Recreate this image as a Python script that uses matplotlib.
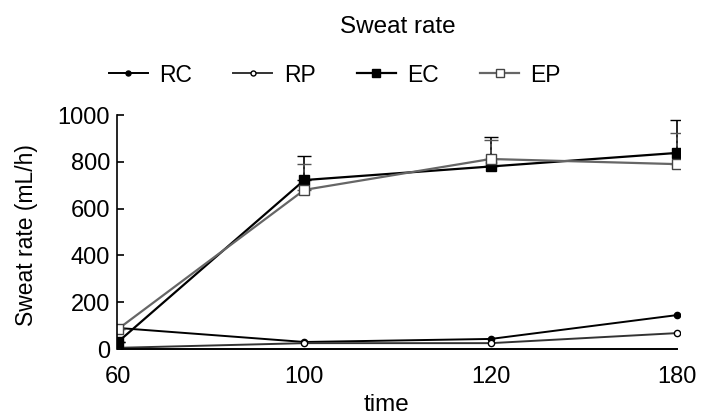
import matplotlib
matplotlib.use("Agg")
import matplotlib.pyplot as plt
import numpy as np

plt.rcParams['font.family'] = ['Liberation Sans', 'DejaVu Sans']

times = ['60', '100', '120', '180']
rc = [90, 30, 43, 145]
rp = [5, 25, 25, 68]
ec = [30, 722, 780, 838]
ep = [85, 680, 812, 790]
ec_err = [0, 103, 125, 140]
ep_err = [0, 110, 80, 135]

fig = plt.figure(figsize=(7.05, 4.18), dpi=100)
ax = fig.add_axes([117 / 705, 1 - 349 / 418, 563 / 705, 234 / 418])

x = np.arange(len(times))
zeros = np.zeros(len(times))

l1, = ax.plot(x, rc, color='k', lw=1.4, marker='o', ms=4.5, mfc='k', mec='k', label='RC')
l2, = ax.plot(x, rp, color='#333333', lw=1.4, marker='o', ms=4.5, mfc='white', mec='k', label='RP')
ax.errorbar(x, ec, yerr=[zeros, ec_err], fmt='none', ecolor='k', elinewidth=1.2, capsize=5)
eb = ax.errorbar(x, ep, yerr=[zeros, ep_err], fmt='none', ecolor='#555555', elinewidth=1.2, capsize=5)
eb[2][0].set_linestyle((0, (2, 1.5)))
l3, = ax.plot(x, ec, color='k', lw=1.6, marker='s', ms=6.5, mfc='k', mec='k', label='EC')
l4, = ax.plot(x, ep, color='#666666', lw=1.6, marker='s', ms=6.5, mfc='white', mec='#444444', label='EP')

ax.set_xlim(-0.005, 3.015)
ax.set_ylim(0, 1000)
ax.set_xticks(x)
ax.set_xticklabels(times)
ax.set_yticks([0, 200, 400, 600, 800, 1000])
ax.tick_params(axis='y', direction='in', length=5, width=1.2, pad=5, labelsize=17)
ax.tick_params(axis='x', length=0, pad=12, labelsize=17)

ax.spines['top'].set_visible(False)
ax.spines['right'].set_visible(False)
ax.spines['bottom'].set_bounds(0, 3)
ax.spines['left'].set_linewidth(1.2)
ax.spines['bottom'].set_linewidth(1.4)

fig.text(398 / 705, 1 - 27 / 418, 'Sweat rate', ha='center', va='center', fontsize=17.5)
fig.text(387 / 705, 1 - 405 / 418, 'time', ha='center', va='center', fontsize=17.5)
fig.text(27 / 705, 1 - 235 / 418, 'Sweat rate (mL/h)', ha='center', va='center',
         rotation=90, fontsize=16.5)

fig.legend(handles=[l1, l2, l3, l4], loc='center', bbox_to_anchor=(335 / 705, 1 - 75 / 418),
           ncol=4, frameon=False, fontsize=16.5, handlelength=1.7, handletextpad=0.5,
           columnspacing=1.8, markerscale=0.8)

fig.savefig('out.png', dpi=100)
